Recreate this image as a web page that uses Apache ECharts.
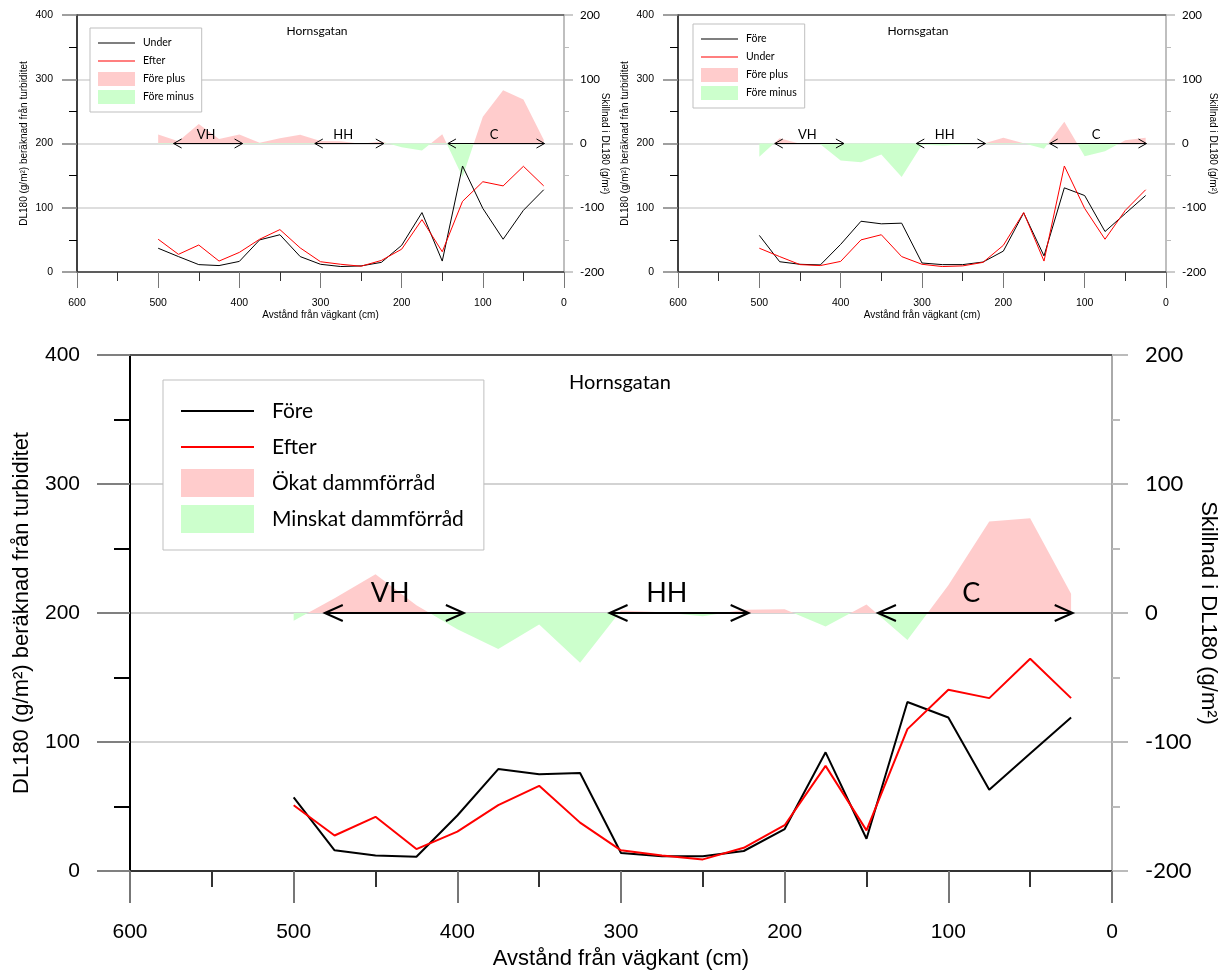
<!DOCTYPE html>
<html><head><meta charset="utf-8">
<script src="https://cdn.jsdelivr.net/npm/echarts@6/dist/echarts.min.js"></script>
<style>html,body{margin:0;padding:0;background:#fff}#c{width:1228px;height:972px}</style>
</head><body><div id="c"></div>
<script>
// ---- data ----
const distances = [500,475,450,425,400,375,350,325,300,275,250,225,200,175,150,125,100,75,50,25];
const fore  = [57,16,12,11,43,79,75,76,14,11.5,11.5,15.5,32.5,92,25,131,119,63,91,119];
const under = [37,24,11.5,10,16.5,50,58,24,12,8.5,9.5,15,41.5,92.5,17,165,99,51,96,128];
const efter = [51,27.5,42,17,30.5,51,66,37.5,16,12,9,18,35.5,81.5,31.5,110,140.5,134,164.5,134];
const diffEfterUnder = [14,3.5,30.5,7,14,1,8,13.5,4,3.5,-0.5,3,-6,-11,14.5,-52,41.5,83,68.5,6];
const diffUnderFore  = [-20.5,8,-0.5,-1,-26.5,-29,-17,-52,-2,-3,-2,-0.5,9,0.5,-8,34,-20,-12,5,9];
const diffEfterFore  = [-6,11.5,30,6,-12.5,-28,-9,-38.5,2,0.5,-2.5,2.5,3,-10.5,6.5,-21,21.5,71,73.5,15];
const zoneNames   = ['VH','HH','C'];
const zoneStart   = [481,307,143];
const zoneEnd     = [396,222,24];
const zoneLabelAt = [441,272,86];
const titleText = 'Hornsgatan';
const xName = 'Avstånd från vägkant (cm)';
const yLeftName = 'DL180 (g/m²) beräknad från turbiditet';
const yRightName = 'Skillnad i DL180 (g/m²)';

const PINK = '#ffcccc', GREEN = '#ccffcc';

const panels = [
  { names:['Under','Efter','Före plus','Före minus'], black:under, red:efter, diff:diffEfterUnder,
    grid:{left:77, top:15, width:487, height:257}, lw:1, axw:1.5, tickFont:10.5, nameFont:10, zoneFont:13,
    head:8, half:4.5, textOff:9, majY:15, minY:8, majX:16, minX:9, majR:9, minR:5,
    mL:24, mX:26, mR:16, gapL:48, gapR:36, gapX:38,
    legend:{left:90, top:28, padding:[8,8,8,8], itemWidth:37, itemHeight:14, itemGap:4, fontSize:10.5, textPad:3},
    title:{x:317, y:31, size:12} },
  { names:['Före','Under','Före plus','Före minus'], black:fore, red:under, diff:diffUnderFore,
    grid:{left:678, top:15, width:488, height:257}, lw:1, axw:1.5, tickFont:10.5, nameFont:10, zoneFont:13,
    head:8, half:4.5, textOff:9, majY:15, minY:8, majX:16, minX:9, majR:9, minR:5,
    mL:24, mX:26, mR:16, gapL:48, gapR:42, gapX:38,
    legend:{left:693, top:24, padding:[8,8,8,8], itemWidth:37, itemHeight:14, itemGap:4, fontSize:10.5, textPad:3},
    title:{x:918, y:31, size:12} },
  { names:['Före','Efter','Ökat dammförråd','Minskat dammförråd'], black:fore, red:efter, diff:diffEfterFore,
    grid:{left:130, top:355, width:982, height:516}, lw:2, axw:2, tickFont:21, nameFont:22, zoneFont:27,
    head:18, half:8, textOff:20, majY:33, minY:16, majX:32, minX:16, majR:16, minR:8,
    mL:50, mX:51, mR:33, gapL:97, gapR:85, gapX:75,
    legend:{left:163, top:380, padding:[17,20,17,18], itemWidth:73, itemHeight:28, itemGap:8, fontSize:21, textPad:13},
    title:{x:620, y:383, size:20} }
];

function lineIcon(w, h, lw) {
  const y0 = h / 2 - lw / 2, y1 = h / 2 + lw / 2;
  return 'path://M0,0M' + w + ',' + h + 'M0,' + y0 + 'L' + w + ',' + y0 + 'L' + w + ',' + y1 + 'L0,' + y1 + 'Z';
}

const grids = [], xAxes = [], yAxes = [], series = [], legends = [], graphics = [], diffIdx = [];
const zoneData = zoneStart.map((s, i) => [s, 0, zoneEnd[i], zoneLabelAt[i]]);

panels.forEach((p, k) => {
  grids.push(Object.assign({containLabel:false, outerBoundsMode:'none'}, p.grid));
  const xb = xAxes.length;
  xAxes.push({
    type:'value', gridIndex:k, min:0, max:600, interval:100, inverse:true, position:'bottom',
    name:xName, nameLocation:'middle', nameGap:p.gapX,
    nameTextStyle:{fontFamily:'Liberation Sans', fontSize:p.nameFont, color:'#000'},
    axisLine:{show:true, onZero:false, lineStyle:{color:'#333', width:p.axw}},
    axisTick:{show:true, inside:false, length:p.majX, lineStyle:{color:'#777', width:p.lw}},
    minorTick:{show:true, splitNumber:2, length:p.minX, lineStyle:{color:'#333', width:p.lw}},
    axisLabel:{margin:p.mX, fontFamily:'Liberation Sans', fontSize:p.tickFont, color:'#000'},
    splitLine:{show:false}
  });
  xAxes.push({
    type:'value', gridIndex:k, min:0, max:600, inverse:true, position:'top',
    axisLine:{show:true, onZero:false, lineStyle:{color:'#555', width:p.axw}},
    axisTick:{show:false}, axisLabel:{show:false}, splitLine:{show:false}
  });
  const yl = yAxes.length;
  yAxes.push({
    type:'value', gridIndex:k, min:0, max:400, interval:100, position:'left',
    name:yLeftName, nameLocation:'middle', nameGap:p.gapL, nameRotate:90,
    nameTextStyle:{fontFamily:'Liberation Sans', fontSize:p.nameFont, color:'#000'},
    axisLine:{show:true, onZero:false, lineStyle:{color:'#000', width:p.axw}},
    axisTick:{show:true, length:p.majY, lineStyle:{color:'#808080', width:p.axw}},
    minorTick:{show:true, splitNumber:2, length:p.minY, lineStyle:{color:'#000', width:p.lw}},
    axisLabel:{margin:p.mL, fontFamily:'Liberation Sans', fontSize:p.tickFont, color:'#000'},
    splitLine:{show:true, lineStyle:{color:'#d3d3d3', width:p.axw}}
  });
  yAxes.push({
    type:'value', gridIndex:k, min:-200, max:200, interval:100, position:'right',
    name:yRightName, nameLocation:'middle', nameGap:p.gapR, nameRotate:-90, nameMoveOverlap:false,
    nameTextStyle:{fontFamily:'Liberation Sans', fontSize:p.nameFont, color:'#000'},
    axisLine:{show:true, onZero:false, lineStyle:{color:'#aaa', width:p.axw}},
    axisTick:{show:true, length:p.majR, lineStyle:{color:'#bbb', width:p.axw}},
    minorTick:{show:true, splitNumber:2, length:p.minR, lineStyle:{color:'#bbb', width:p.lw}},
    axisLabel:{margin:p.mR, fontFamily:'Lato', fontSize:p.tickFont+1, color:'#000'},
    splitLine:{show:false}
  });

  // difference area (pink above 0, green below via visualMap)
  diffIdx.push(series.length);
  series.push({
    type:'line', name:'__diff'+k, xAxisIndex:xb, yAxisIndex:yl+1,
    data:distances.map((d, i) => [d, p.diff[i]]),
    symbol:'none', lineStyle:{width:0, opacity:0}, areaStyle:{opacity:1}, z:1, silent:true
  });
  const sfx = '#' + k;
  series.push({
    type:'line', name:p.names[0]+sfx, xAxisIndex:xb, yAxisIndex:yl,
    data:distances.map((d, i) => [d, p.black[i]]),
    symbol:'none', color:'#000', lineStyle:{color:'#000', width:p.lw}, z:3
  });
  series.push({
    type:'line', name:p.names[1]+sfx, xAxisIndex:xb, yAxisIndex:yl,
    data:distances.map((d, i) => [d, p.red[i]]),
    symbol:'none', color:'#ff0000', lineStyle:{color:'#ff0000', width:p.lw}, z:3
  });
  series.push({ type:'line', name:p.names[2]+sfx, xAxisIndex:xb, yAxisIndex:yl, data:[], color:PINK, symbol:'none' });
  series.push({ type:'line', name:p.names[3]+sfx, xAxisIndex:xb, yAxisIndex:yl, data:[], color:GREEN, symbol:'none' });

  // zone arrows
  series.push({
    type:'custom', name:'__zones'+k, xAxisIndex:xb, yAxisIndex:yl+1, clip:false, z:4, silent:true,
    data:zoneData,
    encode:{x:[0,2,3], y:1},
    renderItem:function(params, api){
      const s = api.coord([api.value(0), api.value(1)]);
      const e = api.coord([api.value(2), api.value(1)]);
      const l = api.coord([api.value(3), api.value(1)]);
      const h = p.head, w = p.half;
      const st = {stroke:'#000', fill:null, lineWidth:p.lw};
      return {type:'group', children:[
        {type:'line', shape:{x1:s[0], y1:s[1], x2:e[0], y2:e[1]}, style:st},
        {type:'polyline', shape:{points:[[s[0]+h, s[1]-w],[s[0], s[1]],[s[0]+h, s[1]+w]]}, style:st},
        {type:'polyline', shape:{points:[[e[0]-h, e[1]-w],[e[0], e[1]],[e[0]-h, e[1]+w]]}, style:st},
        {type:'text', x:l[0], y:l[1]-p.textOff, style:{text:zoneNames[params.dataIndex], fontSize:p.zoneFont,
          fontFamily:'Lato', fill:'#000', align:'center', verticalAlign:'middle'}}
      ]};
    }
  });

  const L = p.legend;
  legends.push({
    show:true, orient:'vertical', left:L.left, top:L.top, padding:L.padding,
    itemWidth:L.itemWidth, itemHeight:L.itemHeight, itemGap:L.itemGap,
    borderColor:'#bfbfbf', borderWidth:1, backgroundColor:'#fff', selectedMode:false,
    formatter:function(n){ return n.split('#')[0]; },
    textStyle:{fontFamily:'Lato', fontSize:L.fontSize, color:'#000', padding:[0,0,0,L.textPad]},
    data:[
      {name:p.names[0]+sfx, icon:lineIcon(L.itemWidth, L.itemHeight, p.lw), itemStyle:{color:'#000'}},
      {name:p.names[1]+sfx, icon:lineIcon(L.itemWidth, L.itemHeight, p.lw), itemStyle:{color:'#ff0000'}},
      {name:p.names[2]+sfx, icon:'rect', itemStyle:{color:PINK}},
      {name:p.names[3]+sfx, icon:'rect', itemStyle:{color:GREEN}}
    ]
  });

  graphics.push({type:'text', x:p.title.x, y:p.title.y, silent:true,
    style:{text:titleText, fontFamily:'Lato', fontSize:p.title.size, fill:'#000', align:'center', verticalAlign:'middle'}});
});

const option = {
  animation:false,
  backgroundColor:'#fff',
  grid:grids, xAxis:xAxes, yAxis:yAxes, series:series, legend:legends,
  visualMap:[{type:'piecewise', show:false, seriesIndex:diffIdx, dimension:1,
    pieces:[{gt:0, lte:200, color:PINK},{gte:-200, lte:0, color:GREEN}]}],
  graphic:graphics
};
const chart = echarts.init(document.getElementById('c'));
try { chart.setOption(option); } catch (err) { console.error(err && err.stack); throw err; }
</script></body></html>
